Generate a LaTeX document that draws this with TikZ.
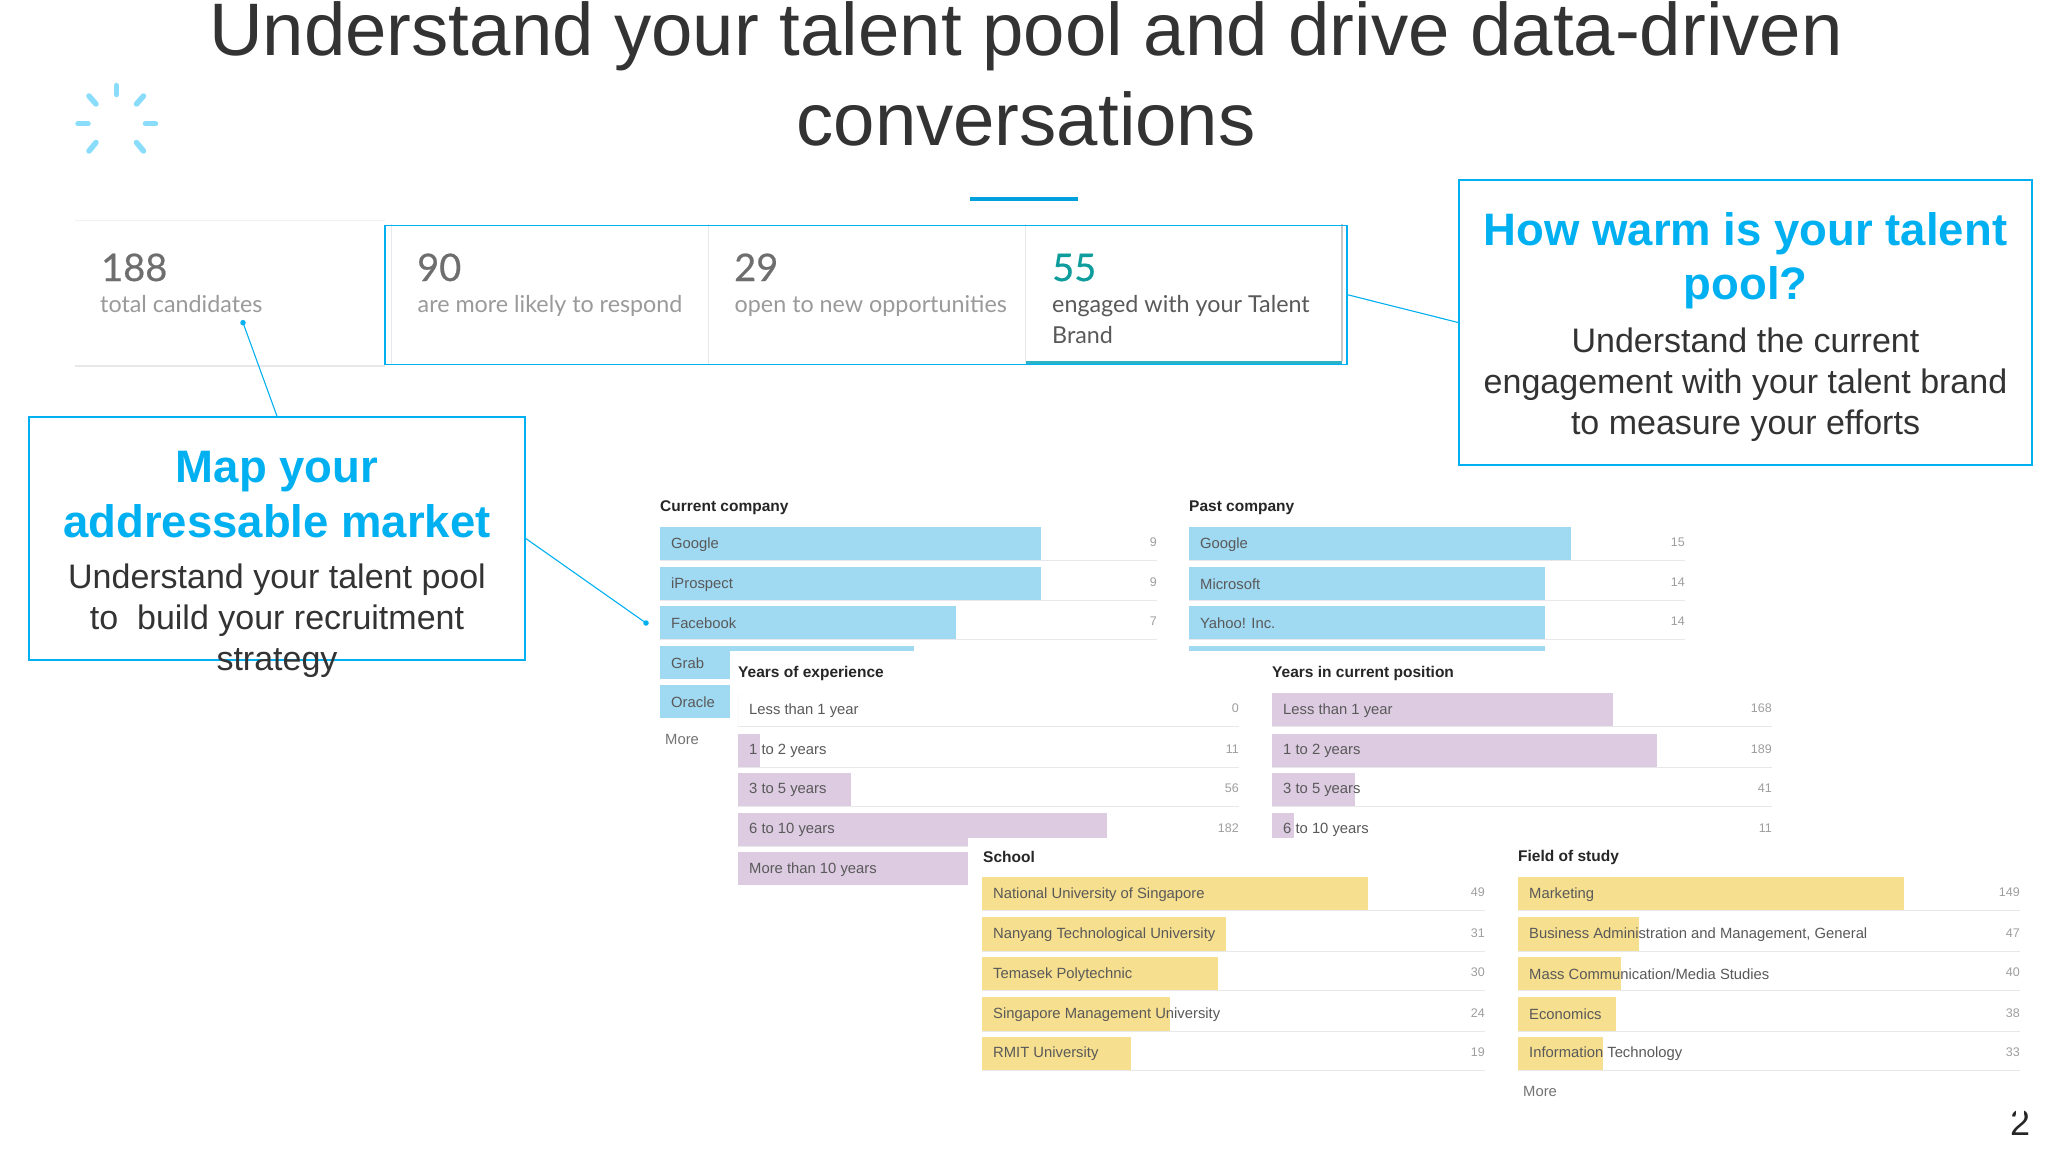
\documentclass[tikz,border=0pt]{standalone}
\usepackage{fontspec}
\setmainfont{Liberation Sans}
\newfontfamily\statfont{Lato}
\newfontfamily\statnumfont[FakeBold=0.5]{Lato}
\definecolor{calloutblue}{HTML}{00B0F0}
\definecolor{linkblue}{HTML}{00A0DC}
\definecolor{spin}{HTML}{8ADCFB}
\definecolor{titlegrey}{HTML}{333333}
\definecolor{barblue}{HTML}{9FD9F2}
\definecolor{barpurple}{HTML}{DCCBE1}
\definecolor{baryellow}{HTML}{F6DF8E}
\definecolor{rulegrey}{HTML}{E8E8EA}
\definecolor{statnum}{HTML}{6E6E6E}
\definecolor{stattext}{HTML}{9A9A9A}
\definecolor{teal}{HTML}{0E9C9C}
\definecolor{activebar}{HTML}{2AB3C6}
\tikzset{
 titletext/.style={text=titlegrey,font=\fontsize{74.4}{90}\selectfont,align=center,inner sep=0pt},
 callout/.style={draw=calloutblue,line width=1.6pt,fill=white,inner sep=0pt},
 heading/.style={text=calloutblue,font=\fontsize{45.5}{54.5}\selectfont\bfseries,align=center,inner sep=0pt},
 bodytext/.style={text=titlegrey,font=\fontsize{34}{41}\selectfont,align=center,inner sep=0pt},
 leader/.style={draw=calloutblue,line width=1.1pt},
 dotend/.style={circle,fill=calloutblue,inner sep=0pt,minimum size=5.5pt},
 spoke/.style={draw=spin,line width=5.5pt,line cap=round},
 statn/.style={text=statnum,font=\statnumfont\fontsize{38}{38}\selectfont,anchor=base west,inner sep=0pt},
 statt/.style={text=stattext,font=\statfont\fontsize{23.3}{31}\selectfont,anchor=north west,align=left,inner sep=0pt},
 grouphead/.style={text=black!85,font=\fontsize{15.5}{18}\selectfont\bfseries,anchor=west,inner sep=0pt},
 rowlabel/.style={text=black!65,font=\fontsize{14.8}{18}\selectfont,anchor=west,inner sep=0pt},
 rowcount/.style={text=black!38,font=\fontsize{12.5}{15}\selectfont,anchor=east,inner sep=0pt},
 morelink/.style={text=black!55,font=\fontsize{14.8}{18}\selectfont,anchor=west,inner sep=0pt}
}
% left, top, bottom, right, rule end, colour, label, count, count y
\newcommand{\rowbar}[9]{%
 \fill[#6] (#1,#2) rectangle (#4,#3);
 \draw[rulegrey,line width=1pt] (#1,#3+0.6) -- (#5,#3+0.6);
 \node[rowlabel] at (#1+11,#2+17.2) {#7};
 \node[rowcount] at (#5,#9) {#8};
}
\begin{document}
\begin{tikzpicture}[x=1pt,y=-1pt]
\useasboundingbox (0,0) rectangle (2048,1152);
\fill[white] (0,0) rectangle (2048,1152);
% title
\node[titletext,anchor=north] (title) at (1026,1) {Understand your talent pool and drive data-driven\\conversations};
\fill[linkblue] (970,196.5) rectangle (1078,201);
% spinner
\foreach \a/\b/\c/\d in {116.5/85.5/116.5/94.5,145.5/123.7/155.5/123.7,78/123.7/88/123.7,
  89/96/96/104,143.5/96/136.5/104,89/151/96/142.5,143.5/151/136.5/142.5}{
 \draw[spoke] (\a,\b) -- (\c,\d);
}
% stats
\draw[rulegrey!60,line width=.8pt] (75,220) -- (385,220);
\draw[rulegrey,line width=1.2pt] (75,366) -- (385,366);
\draw[rulegrey,line width=1pt] (391,224) -- (391,364);
\draw[rulegrey,line width=1pt] (708,224) -- (708,364);
\draw[rulegrey,line width=1pt] (1025,224) -- (1025,364);
\draw[black!22,line width=1.2pt] (1342,224) -- (1342,361);
\node[statn] (n1) at (101,281) {188};
\node[statt] (t1) at (100,295) {total candidates};
\node[statn] (n2) at (417,281) {90};
\node[statt] (t2) at (417.5,295) {are more likely to respond};
\node[statn] (n3) at (734,281) {29};
\node[statt] (t3) at (734.5,295) {open to new opportunities};
\node[statn,text=teal] (n4) at (1052,281) {55};
\node[statt,text=black!65] (t4) at (1052,295) {engaged with your Talent\\Brand};
\fill[activebar] (1026,360.5) rectangle (1342,365);
\node[draw=calloutblue,line width=1.6pt,minimum width=962pt,minimum height=139pt,inner sep=0pt] (warmbox) at (866,294.8) {};
% callouts
\node[callout,minimum width=573pt,minimum height=285pt] (rb) at (1745.5,322.5) {};
\node[heading,anchor=north] (rh) at (1745.5,212) {How warm is your talent\\pool?};
\node[bodytext,anchor=north] (rt) at (1745.5,328) {Understand the current\\engagement with your talent brand\\to measure your efforts};
\node[callout,minimum width=496pt,minimum height=243pt] (lb) at (277,538.5) {};
\node[heading,anchor=north] (lh) at (277,451) {Map your\\addressable market};
\node[bodytext,anchor=north] (lt) at (277,563.5) {Understand your talent pool\\to\ \ build your recruitment\\strategy};
\coordinate (d1) at (243,322.7);
\coordinate (d2) at (646,623);
\draw[leader] (lb.north) -- (d1);
\draw[leader] (lb.east) -- (d2);
\draw[leader] (rb.west) -- (warmbox.east);
\node[dotend] (dd1) at (d1) {};
\node[dotend] (dd2) at (d2) {};
% current company
\node[grouphead] (h1) at (660,508) {Current company};
\rowbar{660}{527.3}{560}{1041}{1157}{barblue}{Google}{9}{542}
\rowbar{660}{567.3}{600}{1041}{1157}{barblue}{iProspect}{9}{582}
\rowbar{660}{606}{639}{956}{1157}{barblue}{Facebook}{7}{620.7}
\rowbar{660}{646}{679}{914}{660}{barblue}{Grab}{}{660}
\rowbar{660}{685}{718}{914}{660}{barblue}{Oracle}{}{700}
\node[morelink] (m1) at (665,739) {More};
% past company
\node[grouphead] (h2) at (1189,508) {Past company};
\rowbar{1189}{527.3}{560}{1571}{1685}{barblue}{Google}{15}{542}
\rowbar{1189}{567.3}{600}{1545}{1685}{barblue}{Microsoft}{14}{582}
\rowbar{1189}{606}{639}{1545}{1685}{barblue}{Yahoo! Inc.}{14}{620.7}
\fill[barblue] (1189,646) rectangle (1545,660);
% panel over them
\fill[white] (730,651.3) rectangle (1800,840);
% years of experience
\node[grouphead] (h3) at (738,673.5) {Years of experience};
\rowbar{738}{693.3}{726.3}{738}{1239}{barpurple}{Less than 1 year}{0}{708}
\rowbar{738}{733.7}{766.7}{759.6}{1239}{barpurple}{1 to 2 years}{11}{748.7}
\rowbar{738}{772.7}{805.7}{851}{1239}{barpurple}{3 to 5 years}{56}{787.7}
\rowbar{738}{813}{846}{1106.5}{1239}{barpurple}{6 to 10 years}{182}{828}
\rowbar{738}{852.3}{885.3}{1000}{738}{barpurple}{More than 10 years}{}{869}
% years in position
\node[grouphead] (h4) at (1272,673.5) {Years in current position};
\rowbar{1272}{693.3}{726.3}{1613}{1772}{barpurple}{Less than 1 year}{168}{708}
\rowbar{1272}{733.7}{766.7}{1657}{1772}{barpurple}{1 to 2 years}{189}{748.7}
\rowbar{1272}{772.7}{805.7}{1355}{1772}{barpurple}{3 to 5 years}{41}{787.7}
\rowbar{1272}{813}{846}{1294}{1772}{barpurple}{6 to 10 years}{11}{828}
% panel over them
\fill[white] (968,838) rectangle (2048,1152);
% school
\node[grouphead] (h5) at (983,857) {School};
\rowbar{982}{877.3}{910}{1368}{1485}{baryellow}{National University of Singapore}{49}{892}
\rowbar{982}{917.3}{950.7}{1226}{1485}{baryellow}{Nanyang Technological University}{31}{932.7}
\rowbar{982}{957}{990}{1218}{1485}{baryellow}{Temasek Polytechnic}{30}{972}
\rowbar{982}{997.3}{1031}{1170}{1485}{baryellow}{Singapore Management University}{24}{1012.7}
\rowbar{982}{1036.7}{1070}{1131.4}{1485}{baryellow}{RMIT University}{19}{1051.7}
% field
\node[grouphead] (h6) at (1518,857) {Field of study};
\rowbar{1518}{877.3}{910}{1904}{2020}{baryellow}{Marketing}{149}{892}
\rowbar{1518}{917.3}{950.7}{1639.4}{2020}{baryellow}{Business Administration and Management, General}{47}{932.7}
\rowbar{1518}{957}{990}{1621}{2020}{baryellow}{Mass Communication/Media Studies}{40}{972}
\rowbar{1518}{997.3}{1031}{1616}{2020}{baryellow}{Economics}{38}{1012.7}
\rowbar{1518}{1036.7}{1070}{1602.6}{2020}{baryellow}{Information Technology}{33}{1051.7}
\node[morelink] (m2) at (1523,1091.7) {More};
% page number
\node[text=black!85,font=\fontsize{36}{36}\selectfont,inner sep=0pt] (pg) at (2020,1122.5) {2};
\fill[white] (2016,1105) rectangle (2024,1115);
\end{tikzpicture}
\end{document}
